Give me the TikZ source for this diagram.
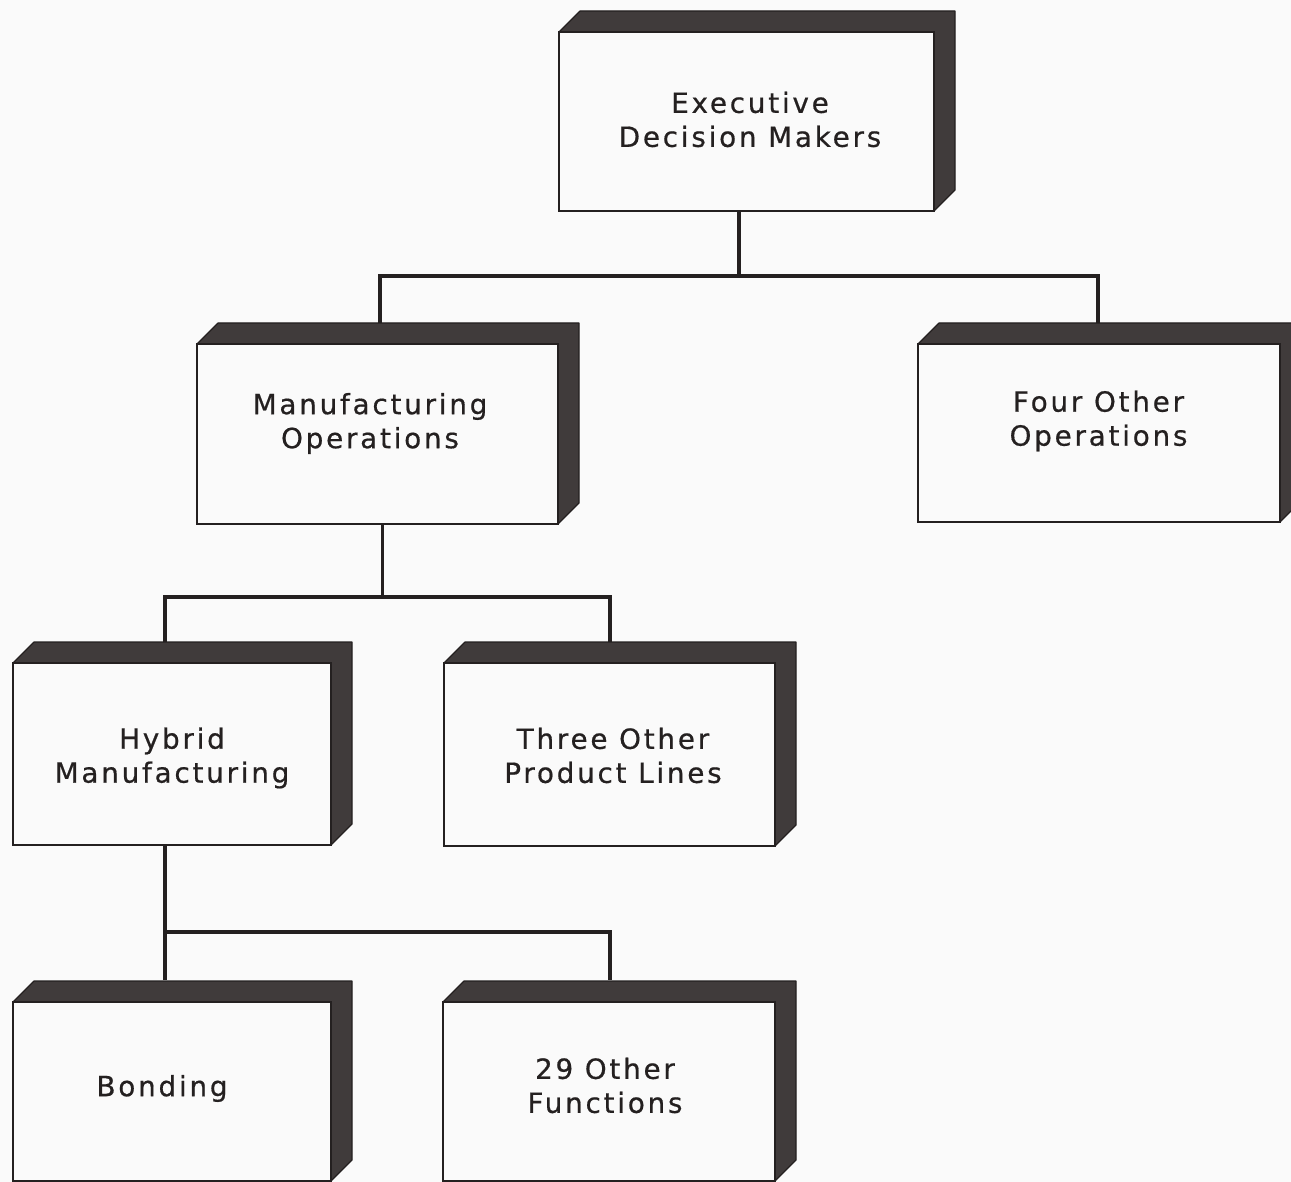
\documentclass[tikz,border=0pt]{standalone}
\usepackage{fontspec}
\setmainfont{DejaVu Sans}[LetterSpace=10, FakeBold=0.6]
\usetikzlibrary{backgrounds}
\definecolor{ink}{RGB}{36,32,32}
\definecolor{paper}{RGB}{250,250,250}
\definecolor{slabgray}{RGB}{64,59,59}
\begin{document}
\begin{tikzpicture}[x=1pt,y=-1pt,
  face/.style={draw=ink, line width=2.8pt, fill=paper, rectangle, outer sep=0pt, inner sep=0pt},
  caption/.style={font=\fontsize{27.8}{34}\selectfont, align=center, text=ink, inner sep=0pt},
  wire/.style={draw=ink, line width=3.2pt, line join=miter},
  slab/.style={fill=slabgray, draw=ink, line width=1.2pt, line join=round}]
\useasboundingbox (0,0) rectangle (1291,1182);
\clip (0,0) rectangle (1291,1182);

% front faces of the boxes
\node[face, minimum width=375pt, minimum height=179pt] (exec)  at (746.5,121.5) {};
\node[face, minimum width=361pt, minimum height=180pt] (mfg)   at (377.5,434)   {};
\node[face, minimum width=362pt, minimum height=178pt] (four)  at (1099,433)    {};
\node[face, minimum width=318pt, minimum height=182pt] (hyb)   at (172,754)     {};
\node[face, minimum width=331pt, minimum height=183pt] (three) at (609.5,754.5) {};
\node[face, minimum width=318pt, minimum height=179pt] (bond)  at (172,1091.5)  {};
\node[face, minimum width=332pt, minimum height=179pt] (func)  at (609,1091.5)  {};

% dark top and side slabs behind each face
\newcommand\slabfor[1]{%
  \filldraw[slab] (#1.north west) -- ([shift={(21pt,21pt)}]#1.north west)
    -- ([shift={(21pt,21pt)}]#1.north east) -- ([shift={(21pt,21pt)}]#1.south east)
    -- (#1.south east) -- (#1.north east) -- cycle;}
\begin{pgfonlayer}{background}
  \fill[paper] (0,0) rectangle (1291,1182);
  \slabfor{exec}\slabfor{mfg}\slabfor{four}\slabfor{hyb}
  \slabfor{three}\slabfor{bond}\slabfor{func}
\end{pgfonlayer}

% captions
\node[caption] (execT)  at (750,119.5)  {Executive\\Decision Makers};
\node[caption] (mfgT)   at (370,423.5)  {Manufacturing\\Operations};
\node[caption] (fourT)  at (1098.5,421) {Four Other\\Operations};
\node[caption] (hybT)   at (172,758)    {Hybrid\\Manufacturing};
\node[caption] (threeT) at (613,755.5)  {Three Other\\Product Lines};
\node[caption] (bondT)  at (162,1088.5) {Bonding};
\node[caption] (funcT)  at (605,1085.5) {29 Other\\Functions};

% connector ports and bus levels
\coordinate (execout) at ([xshift=-7.5pt]exec.south);
\coordinate (mfgout)  at ([xshift=5pt]mfg.south);
\coordinate (hybout)  at ([xshift=-7pt]hyb.south);
\coordinate (busA) at (0,276);
\coordinate (busB) at (0,597);
\coordinate (busC) at (0,932);
\coordinate (mfgin)   at (380,323);
\coordinate (fourin)  at (1098,323);
\coordinate (hybin)   at (165,642);
\coordinate (threein) at (610,642);
\coordinate (bondin)  at (165,980);
\coordinate (funcin)  at (610,980);

% tree connectors
\draw[wire] (execout) -- (execout |- busA);
\draw[wire] (mfgin) |- (busA -| fourin) -- (fourin);
\draw[wire] (mfgout) -- (mfgout |- busB);
\draw[wire] (hybin) |- (busB -| threein) -- (threein);
\draw[wire] (hybout) -- (hybout |- busC);
\draw[wire] (bondin) |- (busC -| funcin) -- (funcin);
\end{tikzpicture}
\end{document}
